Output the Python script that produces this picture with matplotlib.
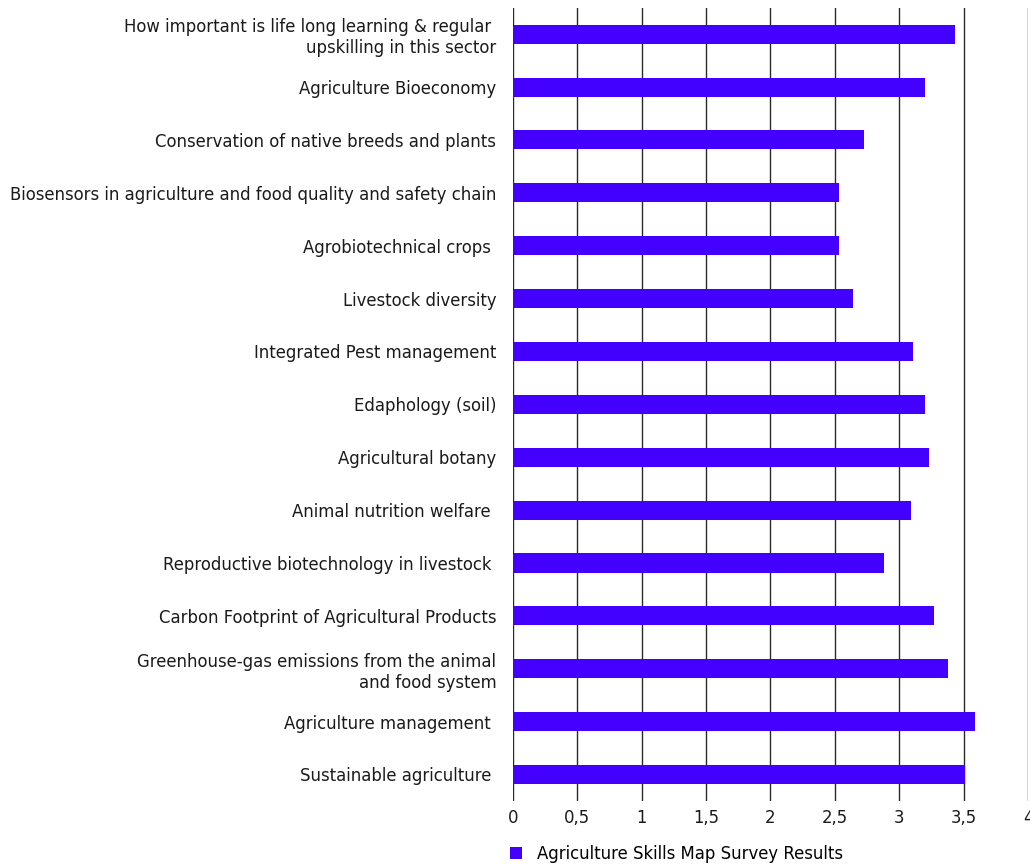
import matplotlib.pyplot as plt
import numpy as np

# categories listed top to bottom, as in the chart
labels = [
    'How important is life long learning & regular \nupskilling in this sector',
    'Agriculture Bioeconomy',
    'Conservation of native breeds and plants',
    'Biosensors in agriculture and food quality and safety chain',
    'Agrobiotechnical crops ',
    'Livestock diversity',
    'Integrated Pest management',
    'Edaphology (soil)',
    'Agricultural botany',
    'Animal nutrition welfare ',
    'Reproductive biotechnology in livestock ',
    'Carbon Footprint of Agricultural Products',
    'Greenhouse-gas emissions from the animal\nand food system',
    'Agriculture management ',
    'Sustainable agriculture ',
]
scores = [3.43, 3.20, 2.73, 2.53, 2.53, 2.64, 3.11, 3.20, 3.23, 3.09, 2.88, 3.27, 3.38, 3.59, 3.51]
xticks = [0, 0.5, 1, 1.5, 2, 2.5, 3, 3.5, 4]
xticklabels = ['0', '0,5', '1', '1,5', '2', '2,5', '3', '3,5', '4']
series_name = 'Agriculture Skills Map Survey Results'

plt.rcParams['font.family'] = ['DejaVu Sans']
plt.rcParams['font.size'] = 11.9

fig = plt.figure(figsize=(10.3, 8.64), dpi=100)
ax = fig.add_axes([0.498, 0.073, 0.5, 0.918])

pos = np.arange(len(labels))
ax.barh(pos, scores, height=0.36, color='#4400FF', label=series_name, zorder=3)

ax.set_ylim(len(labels) - 0.5, -0.5)
ax.set_xlim(0, 4)
ax.set_yticks(pos)
ax.set_yticklabels(labels, ha='right', multialignment='right', linespacing=1.2)
ax.set_xticks(xticks)
ax.set_xticklabels(xticklabels)
ax.tick_params(axis='both', length=0, colors='#1a1a1a')
ax.tick_params(axis='y', pad=12)
ax.tick_params(axis='x', pad=6)

ax.grid(axis='x', color='#2a2a2a', linewidth=1, zorder=0)
for s in ax.spines.values():
    s.set_visible(False)

fig.legend(loc='lower left', bbox_to_anchor=(0.481, -0.016), frameon=False,
           handlelength=0.7, handleheight=0.7, handletextpad=0.9)

plt.savefig('out.png', dpi=100)
